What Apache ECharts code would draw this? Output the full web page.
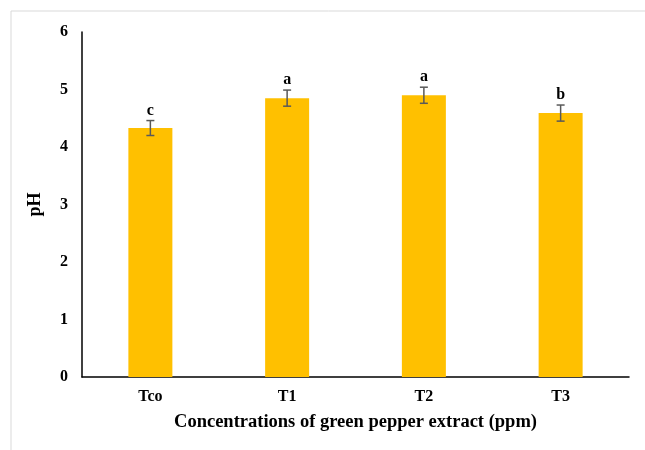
<!DOCTYPE html>
<html><head><meta charset="utf-8">
<script src="https://cdn.jsdelivr.net/npm/echarts@6/dist/echarts.min.js"></script>
<style>html,body{margin:0;padding:0;background:#fff}#c{width:645px;height:450px}</style>
</head><body><div id="c"></div>
<script>
const categories = ['Tco', 'T1', 'T2', 'T3'];
const phValues = [4.33, 4.85, 4.90, 4.59];
const phErrors = [0.13, 0.14, 0.14, 0.14];
const letters = ['c', 'a', 'a', 'b'];
const yTicks = [0, 1, 2, 3, 4, 5, 6];

const font = '"Liberation Serif", "Times New Roman", serif';
const chart = echarts.init(document.getElementById('c'));
chart.setOption({
  animation: false,
  graphic: [{type: 'rect', shape: {x: 11, y: 11, width: 645, height: 450}, style: {fill: 'none', stroke: '#d9d9d9', lineWidth: 1}, silent: true, z: -1}],
  grid: {left: 82, top: 32, right: 16, bottom: 73},
  xAxis: {
    type: 'category', data: categories,
    axisLine: {lineStyle: {color: '#000', width: 1.5}},
    axisTick: {show: false},
    axisLabel: {color: '#000', fontFamily: font, fontWeight: 'bold', fontSize: 16, margin: 12},
    name: 'Concentrations of green pepper extract (ppm)', nameLocation: 'middle', nameGap: 36,
    nameTextStyle: {color: '#000', fontFamily: font, fontWeight: 'bold', fontSize: 18.5}
  },
  yAxis: {
    type: 'value', min: 0, max: 6, interval: 1,
    axisLine: {show: true, lineStyle: {color: '#000', width: 1.5}},
    axisTick: {show: false}, splitLine: {show: false},
    axisLabel: {color: '#000', fontFamily: font, fontWeight: 'bold', fontSize: 16, margin: 14,
      formatter: v => yTicks.includes(v) ? String(v) : ''},
    name: 'pH', nameLocation: 'middle', nameGap: 38,
    nameTextStyle: {color: '#000', fontFamily: font, fontWeight: 'bold', fontSize: 18}
  },
  series: [{
    type: 'bar', data: phValues, barWidth: 44, itemStyle: {color: '#FFC000'}
  }, {
    type: 'custom', z: 10,
    data: phValues.map((v, i) => [i, v, phErrors[i], letters[i]]),
    renderItem: function (params, api) {
      const i = api.value(0), v = api.value(1), e = api.value(2);
      const hi = api.coord([i, v + e]), lo = api.coord([i, v - e]);
      const w = 4;
      const st = {stroke: '#595959', lineWidth: 1.5};
      return {type: 'group', children: [
        {type: 'line', shape: {x1: hi[0], y1: hi[1], x2: lo[0], y2: lo[1]}, style: st},
        {type: 'line', shape: {x1: hi[0] - w, y1: hi[1], x2: hi[0] + w, y2: hi[1]}, style: st},
        {type: 'line', shape: {x1: lo[0] - w, y1: lo[1], x2: lo[0] + w, y2: lo[1]}, style: st},
        {type: 'text', style: {text: letters[i], x: hi[0], y: hi[1] - 2, align: 'center', verticalAlign: 'bottom',
          fill: '#000', font: 'bold 16px ' + font}}
      ]};
    }
  }]
});
</script></body></html>
